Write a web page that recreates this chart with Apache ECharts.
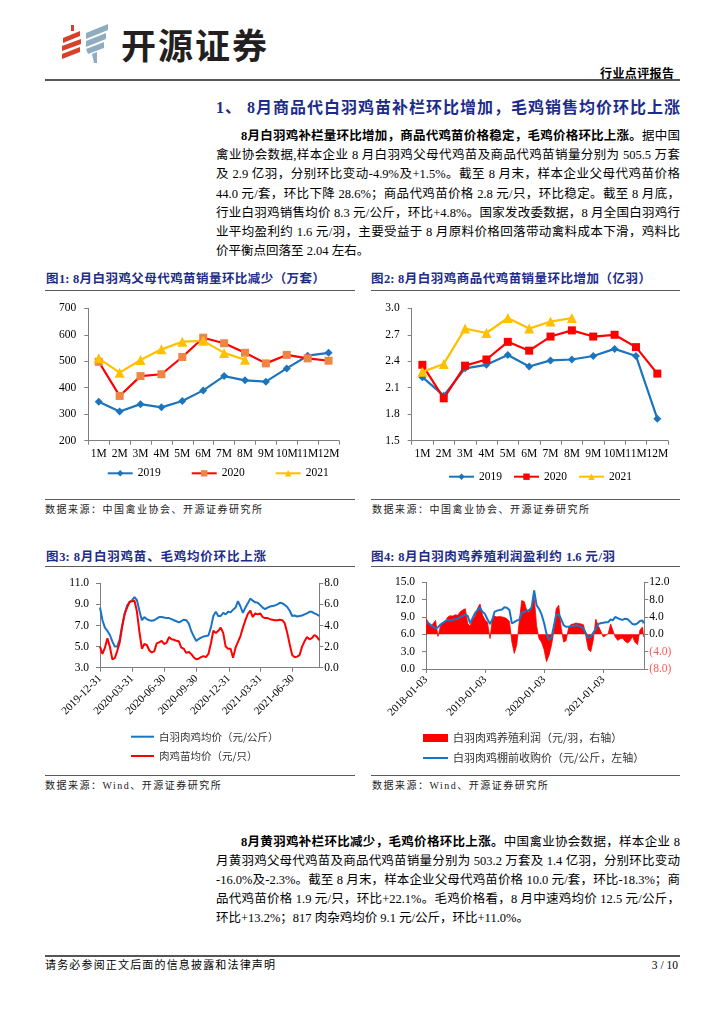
<!DOCTYPE html>
<html><head><meta charset="utf-8">
<script src="https://cdn.jsdelivr.net/npm/echarts@6/dist/echarts.min.js"></script>
<style>
body{margin:0;background:#fff;width:724px;height:1024px;position:relative;overflow:hidden;font-family:"Liberation Serif","Noto Sans CJK SC",serif;color:#000}
.a{position:absolute}
.rule{position:absolute;height:0;border-top:1.5px solid #5a5a5a}
.ln{position:absolute;left:216px;width:464px;font-size:12.5px;line-height:19px;height:19px;white-space:normal;text-align:justify;text-align-last:justify;overflow:visible}
.ln.last{text-align-last:left}
.ttl{position:absolute;font-size:12.5px;font-weight:bold;color:#1d2c8a;line-height:16px;height:16px;text-align:justify;text-align-last:justify}
.src{position:absolute;font-size:10px;letter-spacing:1.5px;line-height:12px;color:#222}
.chart{position:absolute}
b{font-weight:bold}
</style></head>
<body>
<!-- header -->
<svg class="a" style="left:55px;top:20px" width="60" height="50" viewBox="55 20 60 50">
  <polygon points="71,25 74,25 74,31 71,31" fill="#d7402b"/>
  <polygon points="63,38 80,31 80,36 63,43" fill="#d7402b"/>
  <polygon points="62,46 81,39 81,44 62,51" fill="#d7402b"/>
  <polygon points="62,54 80,47 80,52 62,59" fill="#d7402b"/>
  <polygon points="86,33 108,24 108,30 86,39" fill="#8fadbf"/>
  <polygon points="86,41 106,33 106,39 86,47" fill="#8fadbf"/>
  <polygon points="86,49 104,42 104,48 88,54" fill="#8fadbf"/>
  <polygon points="92,54 97,52 97,63 94,63" fill="#8fadbf"/>
</svg>
<div class="a" style="left:121px;top:25px;font-family:'Noto Sans CJK SC';font-weight:bold;font-size:35px;line-height:38px;letter-spacing:2px;color:#231f20">开源证券</div>
<div class="a" style="left:600px;top:66px;font-family:'Noto Sans CJK SC';font-weight:bold;font-size:12px;line-height:14px;letter-spacing:0.4px">行业点评报告</div>
<div class="a" style="left:45px;top:79px;width:635px;height:2px;background:#555"></div>

<!-- section 1 -->
<div class="ln" style="top:98px;height:20px;line-height:20px;font-size:16px;font-weight:bold;color:#1d2c8a">1、 8月商品代白羽鸡苗补栏环比增加，毛鸡销售均价环比上涨</div>
<div class="ln" style="top:127.2px;left:241px;width:439px"><b>8月白羽鸡补栏量环比增加，商品代鸡苗价格稳定，毛鸡价格环比上涨。</b>据中国</div>
<div class="ln" style="top:146.3px">禽业协会数据,样本企业 8 月白羽鸡父母代鸡苗及商品代鸡苗销量分别为 505.5 万套</div>
<div class="ln" style="top:165.4px">及 2.9 亿羽，分别环比变动-4.9%及+1.5%。截至 8 月末，样本企业父母代鸡苗价格</div>
<div class="ln" style="top:184.5px">44.0 元/套，环比下降 28.6%；商品代鸡苗价格 2.8 元/只，环比稳定。截至 8 月底，</div>
<div class="ln" style="top:203.6px">行业白羽鸡销售均价 8.3 元/公斤，环比+4.8%。国家发改委数据，8 月全国白羽鸡行</div>
<div class="ln" style="top:222.7px">业平均盈利约 1.6 元/羽，主要受益于 8 月原料价格回落带动禽料成本下滑，鸡料比</div>
<div class="ln last" style="top:241.8px">价平衡点回落至 2.04 左右。</div>

<!-- chart titles row 1 -->
<div class="ttl" style="left:46px;top:271px;width:279px">图1: 8月白羽鸡父母代鸡苗销量环比减少（万套）</div>
<div class="ttl" style="left:371px;top:271px;width:280px">图2: 8月白羽鸡商品代鸡苗销量环比增加（亿羽）</div>
<div class="rule" style="left:45px;top:289.5px;width:310px"></div>
<div class="rule" style="left:371px;top:289.5px;width:309px"></div>
<div id="c1" class="chart" style="left:45px;top:295px;width:310px;height:200px"></div>
<div id="c2" class="chart" style="left:365px;top:295px;width:320px;height:200px"></div>
<div class="rule" style="left:45px;top:499px;width:310px"></div>
<div class="rule" style="left:371px;top:499px;width:309px"></div>
<div class="src" style="left:45px;top:504px">数据来源：中国禽业协会、开源证券研究所</div>
<div class="src" style="left:372px;top:504px">数据来源：中国禽业协会、开源证券研究所</div>

<!-- chart titles row 2 -->
<div class="ttl" style="left:46px;top:548.7px;width:220px">图3: 8月白羽鸡苗、毛鸡均价环比上涨</div>
<div class="ttl" style="left:371px;top:548.7px;width:244px">图4: 8月白羽肉鸡养殖利润盈利约 1.6 元/羽</div>
<div class="rule" style="left:45px;top:565.5px;width:310px"></div>
<div class="rule" style="left:371px;top:565.5px;width:309px"></div>
<div id="c3" class="chart" style="left:45px;top:570px;width:310px;height:200px"></div>
<div id="c4" class="chart" style="left:365px;top:570px;width:320px;height:200px"></div>
<div class="rule" style="left:45px;top:775px;width:310px"></div>
<div class="rule" style="left:371px;top:775px;width:309px"></div>
<div class="src" style="left:45px;top:780px">数据来源：Wind、开源证券研究所</div>
<div class="src" style="left:372px;top:780px">数据来源：Wind、开源证券研究所</div>

<!-- bottom paragraph -->
<div class="ln" style="top:832.5px;left:241px;width:439px"><b>8月黄羽鸡补栏环比减少，毛鸡价格环比上涨。</b>中国禽业协会数据，样本企业 8</div>
<div class="ln" style="top:851.5px">月黄羽鸡父母代鸡苗及商品代鸡苗销量分别为 503.2 万套及 1.4 亿羽，分别环比变动</div>
<div class="ln" style="top:870.5px">-16.0%及-2.3%。截至 8 月末，样本企业父母代鸡苗价格 10.0 元/套，环比-18.3%；商</div>
<div class="ln" style="top:889.5px">品代鸡苗价格 1.9 元/只，环比+22.1%。毛鸡价格看，8 月中速鸡均价 12.5 元/公斤，</div>
<div class="ln last" style="top:908.5px">环比+13.2%；817 肉杂鸡均价 9.1 元/公斤，环比+11.0%。</div>

<!-- footer -->
<div class="a" style="left:45px;top:954.5px;width:635px;height:2px;background:#555"></div>
<div class="a" style="left:45px;top:958px;width:230px;font-size:11px;line-height:14px;text-align:justify;text-align-last:justify">请务必参阅正文后面的信息披露和法律声明</div>
<div class="a" style="left:600px;top:958px;width:78px;font-size:11.5px;line-height:14px;text-align:right">3 / 10</div>

<script>
// ---------- data ----------
const monthCats = ['1M','2M','3M','4M','5M','6M','7M','8M','9M','10M','11M','12M'];
const psSales2019 = [347,310,338,326,350,390,444,428,423,473,521,532];
const psSales2020 = [498,369,444,451,516,589,568,532,492,524,511,502];
const psSales2021 = [511,457,505,545,574,577,531.5,505.5];

const ccSales2019 = [2.22,2.01,2.32,2.36,2.47,2.34,2.41,2.42,2.46,2.54,2.46,1.75];
const ccSales2020 = [2.36,1.98,2.35,2.42,2.62,2.52,2.68,2.75,2.68,2.70,2.56,2.26];
const ccSales2021 = [2.28,2.37,2.77,2.72,2.89,2.77,2.85,2.89];

const c3Dates = ['2019-12-31',
 '2020-01-07','2020-01-14','2020-01-21','2020-01-28','2020-02-04','2020-02-11','2020-02-18','2020-02-25',
 '2020-03-03','2020-03-10','2020-03-17','2020-03-24','2020-03-31','2020-04-07','2020-04-14','2020-04-21','2020-04-28',
 '2020-05-05','2020-05-12','2020-05-19','2020-05-26','2020-06-02','2020-06-09','2020-06-16','2020-06-23','2020-06-30',
 '2020-07-07','2020-07-14','2020-07-21','2020-07-28','2020-08-04','2020-08-11','2020-08-18','2020-08-25',
 '2020-09-01','2020-09-08','2020-09-15','2020-09-22','2020-09-29','2020-10-06','2020-10-13','2020-10-20','2020-10-27',
 '2020-11-03','2020-11-10','2020-11-17','2020-11-24','2020-12-01','2020-12-08','2020-12-15','2020-12-22','2020-12-29',
 '2021-01-05','2021-01-12','2021-01-19','2021-01-26','2021-02-02','2021-02-09','2021-02-16','2021-02-23',
 '2021-03-02','2021-03-09','2021-03-16','2021-03-23','2021-03-30','2021-04-06','2021-04-13','2021-04-20','2021-04-27',
 '2021-05-04','2021-05-11','2021-05-18','2021-05-25','2021-06-01','2021-06-08','2021-06-15','2021-06-22','2021-06-29',
 '2021-07-06','2021-07-13','2021-07-20','2021-07-27','2021-08-03','2021-08-10','2021-08-17','2021-08-24','2021-08-31',
 '2021-09-07','2021-09-14'];
const broilerPrice = [8.7,7.5,6.8,6.5,6.1,5.5,5.0,5.0,5.7,7.0,
 8.1,8.9,9.2,9.4,9.7,9.4,8.4,7.5,7.8,7.6,
 7.5,7.45,7.5,7.65,7.8,7.8,7.75,7.7,7.7,7.6,
 7.5,7.4,7.3,7.4,7.55,7.5,7.2,6.5,6.0,5.55,
 5.7,5.85,5.95,6.0,6.05,6.8,7.9,8.3,7.9,7.9,
 8.2,8.05,8.3,8.25,8.5,8.7,9.3,8.8,8.2,8.7,
 9.1,9.55,9.35,9.2,9.15,8.95,8.7,8.55,8.7,8.8,
 8.85,8.9,9.0,9.15,9.1,8.95,8.75,8.4,7.9,7.95,
 7.85,7.9,7.95,8.05,8.15,8.3,8.3,8.15,8.05,7.9];
const chickPrice = [2.0,1.3,1.9,2.8,2.0,0.8,0.9,1.6,2.4,3.9,
 5.1,5.7,6.25,6.3,6.35,5.3,3.4,1.8,2.25,2.15,
 1.65,1.45,1.55,2.3,2.4,2.55,2.25,2.35,2.9,2.7,
 2.65,2.55,2.5,1.9,1.8,1.4,1.5,1.3,1.0,0.8,
 0.85,1.0,1.1,1.0,1.3,2.3,3.5,3.3,3.5,3.8,
 3.3,2.0,1.8,1.8,0.95,1.9,2.45,3.0,3.8,4.5,
 5.1,5.4,4.8,5.15,5.05,5.15,4.8,4.7,4.7,4.6,
 4.55,4.5,4.5,4.55,4.5,4.2,3.3,2.2,1.2,1.0,
 1.05,1.2,2.0,2.5,2.9,2.7,2.8,3.1,2.95,2.6];
const c3TickLabels = ['2019-12-31','2020-03-31','2020-06-30','2020-09-30','2020-12-31','2021-03-31','2021-06-30'];
const c3LeftTicks = [3,5,7,9,11];

const c4Dates = [
 '2018-01-03','2018-01-18','2018-02-03','2018-02-18','2018-03-03','2018-03-18','2018-04-03','2018-04-18','2018-05-03','2018-05-18','2018-06-03','2018-06-18',
 '2018-07-03','2018-07-18','2018-08-03','2018-08-18','2018-09-03','2018-09-18','2018-10-03','2018-10-18','2018-11-03','2018-11-18','2018-12-03','2018-12-18',
 '2019-01-03','2019-01-18','2019-02-03','2019-02-18','2019-03-03','2019-03-18','2019-04-03','2019-04-18','2019-05-03','2019-05-18','2019-06-03','2019-06-18',
 '2019-07-03','2019-07-18','2019-08-03','2019-08-18','2019-09-03','2019-09-18','2019-10-03','2019-10-18','2019-11-03','2019-11-18','2019-12-03','2019-12-18',
 '2020-01-03','2020-01-18','2020-02-03','2020-02-18','2020-03-03','2020-03-18','2020-04-03','2020-04-18','2020-05-03','2020-05-18','2020-06-03','2020-06-18',
 '2020-07-03','2020-07-18','2020-08-03','2020-08-18','2020-09-03','2020-09-18','2020-10-03','2020-10-18','2020-11-03','2020-11-18','2020-12-03','2020-12-18',
 '2021-01-03','2021-01-18','2021-02-03','2021-02-18','2021-03-03','2021-03-18','2021-04-03','2021-04-18','2021-05-03','2021-05-18','2021-06-03','2021-06-18',
 '2021-07-03','2021-07-18','2021-08-03','2021-08-18','2021-09-03','2021-09-10'];
const farmProfit = [3.6,2.8,1.8,2.6,3.2,-0.5,2.0,2.6,3.0,4.0,
 4.3,4.2,4.5,4.4,5.2,5.6,5.9,2.5,1.8,3.5,
 4.2,6.0,7.0,4.5,3.3,2.8,-1.0,3.8,4.2,4.0,
 4.1,4.0,3.9,3.6,3.0,-1.8,-4.4,-2.5,3.0,7.8,
 7.5,5.5,5.1,6.5,8.5,2.0,-1.0,-1.8,-3.5,-6.3,
 -4.8,-2.5,0.5,5.9,6.7,1.5,-1.8,-1.5,1.5,2.3,
 2.4,2.6,2.5,2.4,2.2,-0.5,-3.5,-4.0,-1.2,3.5,
 2.0,0.8,-0.6,-0.3,0.2,2.4,1.0,-0.6,-1.4,-1.0,
 -0.9,-1.6,-2.0,-1.5,-0.5,-1.8,-2.4,1.0,1.7,-0.6];
const farmGatePrice = [8.0,7.9,7.6,7.3,7.0,7.2,7.7,8.0,8.3,8.5,
 8.4,8.5,8.6,8.7,9.0,9.2,9.4,9.2,7.9,8.8,
 9.7,10.2,10.6,9.9,9.5,8.6,7.8,8.6,9.9,10.1,
 10.2,10.3,10.7,10.6,10.2,7.9,8.1,8.4,8.5,9.7,
 9.9,10.1,10.2,10.6,13.6,11.0,10.4,9.5,8.0,6.1,
 5.0,5.5,7.3,9.3,9.5,8.6,7.6,7.3,7.3,7.4,
 7.5,7.55,7.5,7.3,7.0,6.2,5.4,5.6,6.3,6.9,
 7.8,7.9,8.0,8.1,8.1,8.6,8.4,9.0,8.8,8.6,
 8.5,8.7,8.6,8.2,7.8,7.7,7.9,8.3,8.4,7.9];
const c4TickLabels = ['2018-01-03','2019-01-03','2020-01-03','2021-01-03'];

// ---------- helpers ----------
function ts(s){const p=s.split('-');return new Date(+p[0],+p[1]-1,+p[2]).getTime();}
function fmtDate(v){const d=new Date(v);const p=n=>String(n).padStart(2,'0');return d.getFullYear()+'-'+p(d.getMonth()+1)+'-'+p(d.getDate());}
function zipTs(a,b){return a.map((x,i)=>[ts(x),b[i]]);}
const SERIF='Liberation Serif';
const AX='#7f7f7f';
const lab={fontFamily:SERIF,fontSize:11.5,color:'#000'};
const axLine={show:true,lineStyle:{color:AX,width:1}};
const axTick={show:true,length:4,lineStyle:{color:AX,width:1}};
const BLUE='#1c75bc', RED='#ff0000', GOLD='#ffc000', ORANGE='#ef8544', LBLUE='#1a74c6';

function monthChart(el, s19, s20, s21, yMin, yMax, yInt, grid, legend, sq2020Color, dec){
  const ch = echarts.init(document.getElementById(el), null, {renderer:'canvas'});
  ch.setOption({
    animation:false,
    grid:grid,
    legend:Object.assign({padding:0,itemWidth:25,itemHeight:8,itemTextGap:3,
      textStyle:{fontFamily:SERIF,fontSize:11.5,color:'#000',lineHeight:14},data:['2019','2020','2021']},legend),
    xAxis:{type:'category',data:monthCats,boundaryGap:true,axisLine:axLine,axisTick:axTick,
      axisLabel:Object.assign({interval:0,margin:7},lab)},
    yAxis:{type:'value',min:yMin,max:yMax,interval:yInt,axisLine:axLine,axisTick:axTick,splitLine:{show:false},
      axisLabel:Object.assign({margin:12,formatter:v=>dec?v.toFixed(1):String(v)},lab)},
    series:[
      {name:'2019',type:'line',data:s19,symbol:'diamond',symbolSize:8,lineStyle:{color:BLUE,width:2.2},itemStyle:{color:BLUE}},
      {name:'2020',type:'line',data:s20,symbol:'rect',symbolSize:8,lineStyle:{color:RED,width:2.2},itemStyle:{color:sq2020Color}},
      {name:'2021',type:'line',data:s21,symbol:'triangle',symbolSize:10,lineStyle:{color:GOLD,width:2.2},itemStyle:{color:GOLD}}
    ]
  });
}
monthChart('c1', psSales2019, psSales2020, psSales2021, 200, 700, 100,
  {left:43.3,top:13.3,width:250.7,height:132.4}, {left:61.7,top:171.3,itemGap:30}, ORANGE, false);
monthChart('c2', ccSales2019, ccSales2020, ccSales2021, 1.5, 3.0, 0.3,
  {left:46.7,top:13.3,width:256.3,height:132.4}, {left:83,top:174.7,itemGap:11}, RED, true);

// chart 3
(function(){
  const ch = echarts.init(document.getElementById('c3'));
  const tv = c3TickLabels.map(ts);
  const nA='白羽肉鸡均价（元/公斤）', nB='肉鸡苗均价（元/只）';
  ch.setOption({
    animation:false,
    grid:{left:55,top:13.3,width:219.3,height:84.4},
    legend:{orient:'vertical',padding:0,left:85,top:159.7,itemWidth:23,itemHeight:10,itemGap:5.3,itemTextGap:4,
      data:[{name:nA,itemStyle:{opacity:0}},{name:nB,itemStyle:{opacity:0}}],
      textStyle:{fontFamily:'Noto Sans CJK SC',fontSize:10.5,color:'#333',lineHeight:14}},
    xAxis:{type:'value',min:ts('2019-12-31'),max:ts('2021-09-14'),splitLine:{show:false},axisLine:axLine,
      axisTick:Object.assign({},axTick,{customValues:tv}),
      axisLabel:Object.assign({customValues:tv,rotate:45,margin:9,formatter:v=>fmtDate(v)},lab,{fontSize:11})},
    yAxis:[
      {type:'value',min:3,max:11,axisLine:axLine,axisTick:Object.assign({},axTick,{customValues:c3LeftTicks}),splitLine:{show:false},
        axisLabel:Object.assign({customValues:c3LeftTicks,margin:11,formatter:v=>v.toFixed(1)},lab)},
      {type:'value',min:0,max:8,interval:2,position:'right',axisLine:axLine,axisTick:axTick,splitLine:{show:false},
        axisLabel:Object.assign({margin:5,formatter:v=>v.toFixed(1)},lab)}
    ],
    series:[
      {name:nA,type:'line',yAxisIndex:0,data:zipTs(c3Dates,broilerPrice),symbol:'none',lineStyle:{color:LBLUE,width:2},itemStyle:{color:LBLUE}},
      {name:nB,type:'line',yAxisIndex:1,data:zipTs(c3Dates,chickPrice),symbol:'none',lineStyle:{color:RED,width:2},itemStyle:{color:RED}}
    ]
  });
})();

// chart 4
(function(){
  const ch = echarts.init(document.getElementById('c4'));
  const tv = c4TickLabels.map(ts);
  const nProfit='白羽肉鸡养殖利润（元/羽，右轴）', nPrice='白羽肉鸡棚前收购价（元/公斤，左轴）';
  ch.setOption({
    animation:false,
    grid:{left:61,top:12.3,width:218.3,height:86.7},
    legend:{orient:'vertical',padding:0,left:57,top:161,itemWidth:25,itemHeight:8,itemGap:6,itemTextGap:3,
      data:[{name:nProfit,icon:'rect'},{name:nPrice,itemStyle:{opacity:0}}],
      textStyle:{fontFamily:'Noto Sans CJK SC',fontSize:11,color:'#333',lineHeight:14}},
    xAxis:{type:'value',min:ts('2018-01-03'),max:ts('2021-09-14'),splitLine:{show:false},axisLine:axLine,
      axisTick:Object.assign({},axTick,{customValues:tv}),
      axisLabel:Object.assign({customValues:tv,rotate:45,margin:9,formatter:v=>fmtDate(v)},lab,{fontSize:11})},
    yAxis:[
      {type:'value',min:0,max:15,interval:3,axisLine:axLine,axisTick:axTick,splitLine:{show:false},
        axisLabel:Object.assign({margin:11,formatter:v=>v.toFixed(1)},lab)},
      {type:'value',min:-8,max:12,interval:4,position:'right',axisLine:axLine,axisTick:axTick,splitLine:{show:false},
        axisLabel:Object.assign({margin:5,formatter:v=>v<0?'{n|('+(-v).toFixed(1)+')}':v.toFixed(1),
          rich:{n:{color:'#ff5a5a',fontFamily:SERIF,fontSize:11.5}}},lab)}
    ],
    series:[
      {name:nProfit,type:'line',yAxisIndex:1,data:zipTs(c4Dates,farmProfit),symbol:'none',
        lineStyle:{color:RED,width:0.8},areaStyle:{color:RED,opacity:1},itemStyle:{color:RED}},
      {name:nPrice,type:'line',yAxisIndex:0,data:zipTs(c4Dates,farmGatePrice),symbol:'none',
        lineStyle:{color:LBLUE,width:2},itemStyle:{color:LBLUE}}
    ]
  });
})();
</script>
</body></html>
